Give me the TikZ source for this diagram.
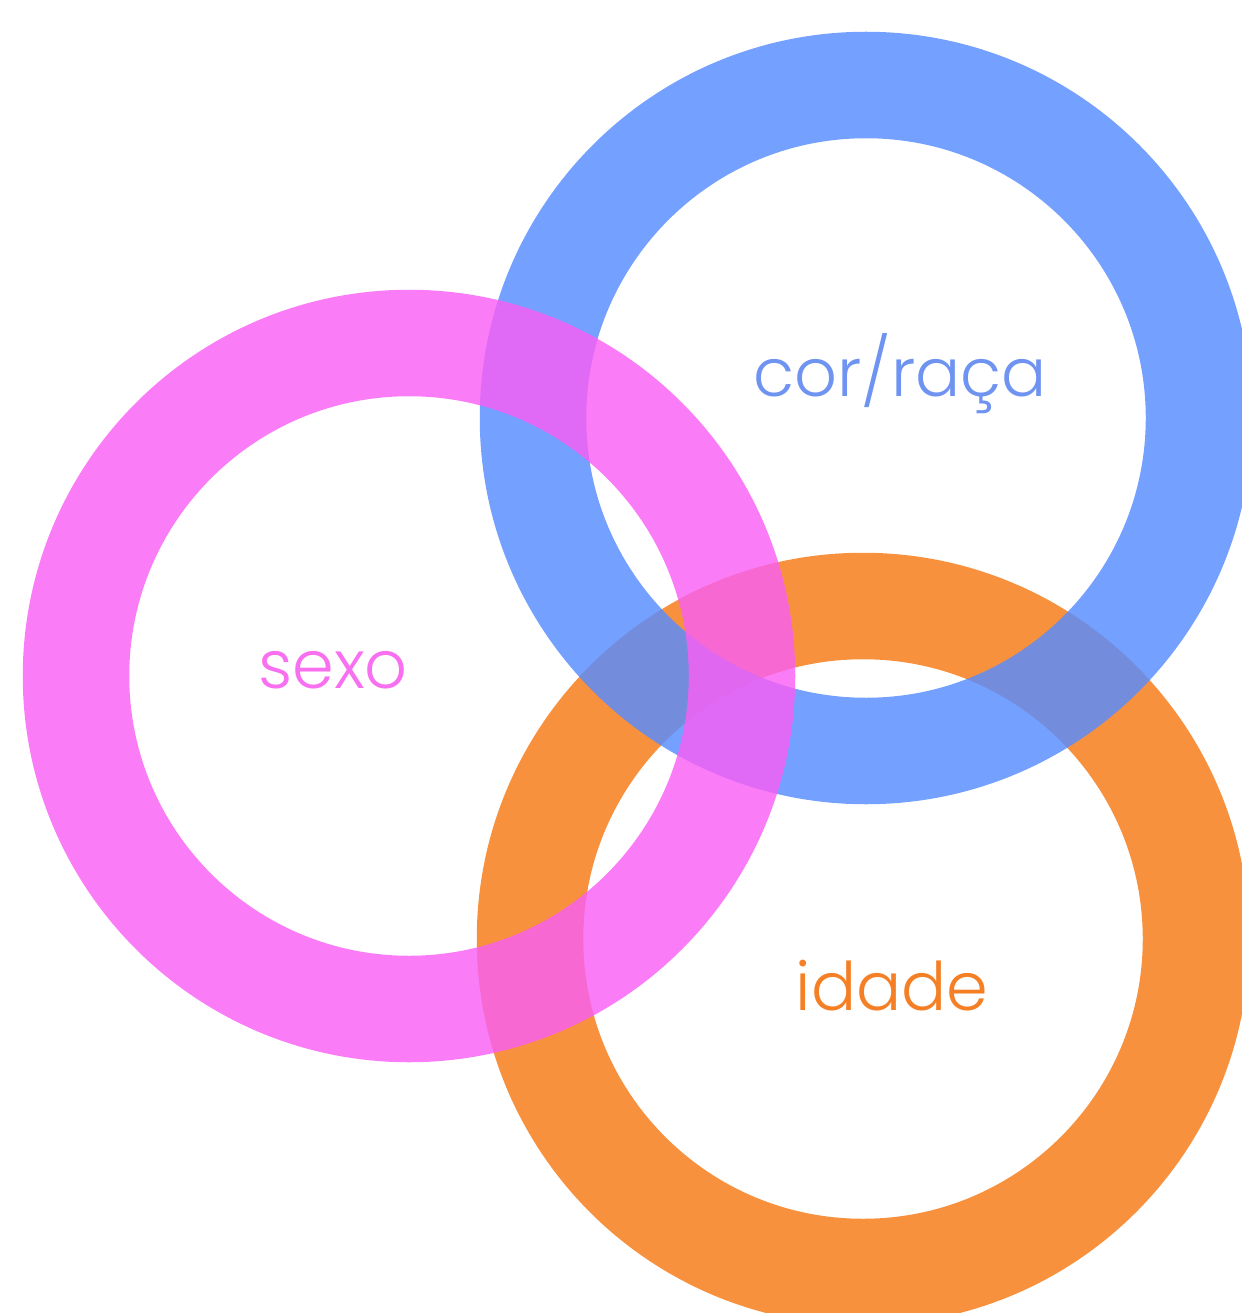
\documentclass[tikz,border=0pt]{standalone}
\usepackage{fontspec}
\setmainfont{Poppins}[UprightFont=* Light]
\definecolor{sexopink}{RGB}{249,95,244}
\definecolor{racablue}{RGB}{86,139,255}
\definecolor{idadeorange}{RGB}{246,121,20}
\definecolor{sexotext}{RGB}{248,112,240}
\definecolor{racatext}{RGB}{111,147,240}
\definecolor{idadetext}{RGB}{245,127,37}
\begin{document}
\begin{tikzpicture}[x=1pt,y=-1pt,
    ring/.style={line width=106.5pt,draw opacity=.82},
    label/.style={anchor=base,inner sep=0pt,font=\fontsize{67}{80}\selectfont}]
      \useasboundingbox (0,0) rectangle (1241,1313);
      \coordinate (sexo) at (409,676);
      \coordinate (raca) at (866,418);
      \coordinate (idade) at (863,939);
      % orange at the back, then blue, then pink on top
      \draw[ring,idadeorange] (idade) circle (333);
      \draw[ring,racablue] (raca) circle (333);
      \draw[ring,sexopink] (sexo) circle (333);
      \node[label,text=racatext] (racalabel) at (900,396) {cor/ra\c{c}a};
      \node[label,text=sexotext] (sexolabel) at (333,688) {sexo};
      \node[label,text=idadetext] (idadelabel) at (892,1010) {idade};
    \end{tikzpicture}
\end{document}
